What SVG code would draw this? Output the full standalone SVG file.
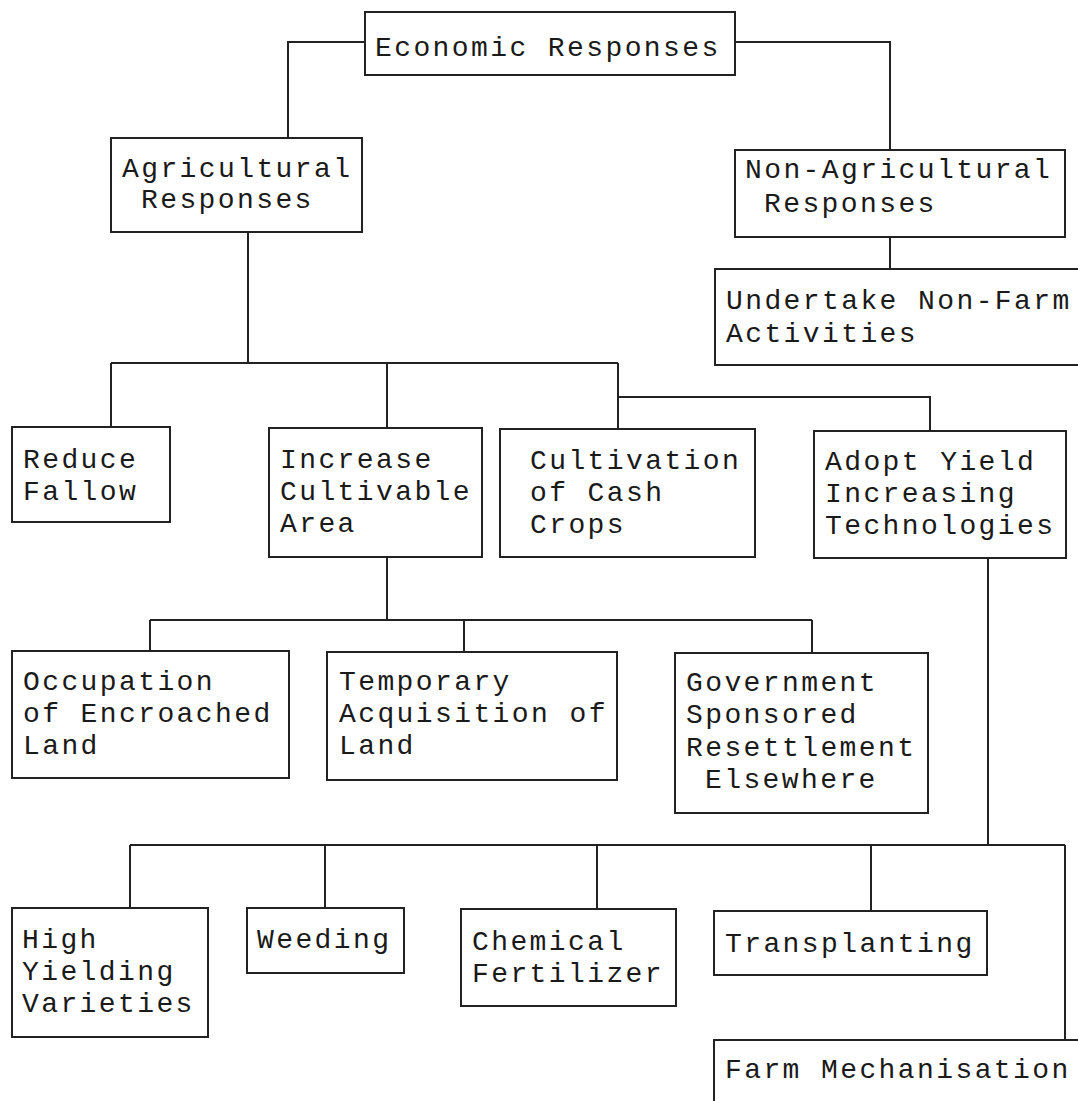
<svg xmlns="http://www.w3.org/2000/svg" width="1078" height="1101" viewBox="0 0 1078 1101">
  <style>
    .box { fill: #ffffff; stroke: #222222; stroke-width: 2; }
    .wire { fill: none; stroke: #222222; stroke-width: 2; }
    text { font-family: "Liberation Mono", "Courier New", monospace; font-size: 28px; letter-spacing: 2.4px; fill: #1a1a1a; }
  </style>
  <rect width="1078" height="1101" fill="#ffffff"/>

  <!-- connectors -->
  <g id="connectors" class="wire">
    <polyline points="365,42 288,42 288,138"/>
    <polyline points="735,42 890,42 890,150"/>
    <line x1="890" y1="237" x2="890" y2="269"/>
    <line x1="248" y1="232" x2="248" y2="363"/>
    <line x1="111" y1="363" x2="618" y2="363"/>
    <line x1="111" y1="363" x2="111" y2="427"/>
    <line x1="387" y1="363" x2="387" y2="428"/>
    <line x1="618" y1="363" x2="618" y2="429"/>
    <polyline points="618,397 930,397 930,431"/>
    <line x1="387" y1="557" x2="387" y2="620"/>
    <line x1="150" y1="620" x2="812" y2="620"/>
    <line x1="150" y1="620" x2="150" y2="651"/>
    <line x1="464" y1="620" x2="464" y2="652"/>
    <line x1="812" y1="620" x2="812" y2="653"/>
    <line x1="988" y1="558" x2="988" y2="845"/>
    <line x1="130" y1="845" x2="1065" y2="845"/>
    <line x1="130" y1="845" x2="130" y2="908"/>
    <line x1="325" y1="845" x2="325" y2="908"/>
    <line x1="597" y1="845" x2="597" y2="909"/>
    <line x1="871" y1="845" x2="871" y2="911"/>
    <line x1="1065" y1="845" x2="1065" y2="1040"/>
  </g>

  <g id="economic">
    <rect class="box" x="365" y="12" width="370" height="63"/>
    <text x="375" y="56">Economic Responses</text>
  </g>
  <g id="agricultural">
    <rect class="box" x="111" y="138" width="251" height="94"/>
    <text x="122" y="177">Agricultural</text>
    <text x="141" y="208">Responses</text>
  </g>
  <g id="non-agricultural">
    <rect class="box" x="735" y="150" width="330" height="87"/>
    <text x="745" y="178">Non-Agricultural</text>
    <text x="764" y="212">Responses</text>
  </g>
  <g id="non-farm">
    <rect class="box" x="715" y="269" width="380" height="96"/>
    <text x="726" y="309">Undertake Non-Farm</text>
    <text x="726" y="342">Activities</text>
  </g>
  <g id="reduce-fallow">
    <rect class="box" x="12" y="427" width="158" height="95"/>
    <text x="23" y="468">Reduce</text>
    <text x="23" y="500">Fallow</text>
  </g>
  <g id="increase-area">
    <rect class="box" x="269" y="428" width="213" height="129"/>
    <text x="280" y="468">Increase</text>
    <text x="280" y="500">Cultivable</text>
    <text x="280" y="532">Area</text>
  </g>
  <g id="cash-crops">
    <rect class="box" x="500" y="429" width="255" height="128"/>
    <text x="530" y="469">Cultivation</text>
    <text x="530" y="501">of Cash</text>
    <text x="530" y="533">Crops</text>
  </g>
  <g id="yield-tech">
    <rect class="box" x="814" y="431" width="252" height="127"/>
    <text x="825" y="470">Adopt Yield</text>
    <text x="825" y="502">Increasing</text>
    <text x="825" y="534">Technologies</text>
  </g>
  <g id="encroached-land">
    <rect class="box" x="12" y="651" width="277" height="127"/>
    <text x="23" y="690">Occupation</text>
    <text x="23" y="722">of Encroached</text>
    <text x="23" y="754">Land</text>
  </g>
  <g id="temporary-land">
    <rect class="box" x="327" y="652" width="290" height="128"/>
    <text x="339" y="690">Temporary</text>
    <text x="339" y="722">Acquisition of</text>
    <text x="339" y="754">Land</text>
  </g>
  <g id="resettlement">
    <rect class="box" x="675" y="653" width="253" height="160"/>
    <text x="686" y="691">Government</text>
    <text x="686" y="723">Sponsored</text>
    <text x="686" y="756">Resettlement</text>
    <text x="705" y="788">Elsewhere</text>
  </g>
  <g id="hyv">
    <rect class="box" x="12" y="908" width="196" height="129"/>
    <text x="22" y="948">High</text>
    <text x="22" y="980">Yielding</text>
    <text x="22" y="1012">Varieties</text>
  </g>
  <g id="weeding">
    <rect class="box" x="247" y="908" width="157" height="65"/>
    <text x="257" y="948">Weeding</text>
  </g>
  <g id="fertilizer">
    <rect class="box" x="461" y="909" width="215" height="97"/>
    <text x="472" y="950">Chemical</text>
    <text x="472" y="982">Fertilizer</text>
  </g>
  <g id="transplanting">
    <rect class="box" x="714" y="911" width="273" height="64"/>
    <text x="725" y="952">Transplanting</text>
  </g>
  <g id="mechanisation">
    <rect class="box" x="714" y="1040" width="380" height="80"/>
    <text x="725" y="1078">Farm Mechanisation</text>
  </g>
</svg>
